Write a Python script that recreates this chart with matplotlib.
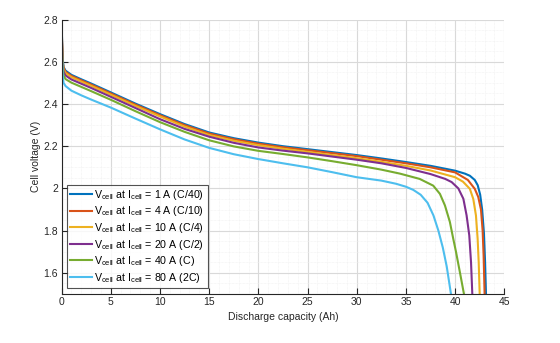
import matplotlib
matplotlib.use("Agg")
import matplotlib.pyplot as plt
from matplotlib.ticker import AutoMinorLocator

# ---- data ----
labels = [
    r"V$_{\mathregular{cell}}$ at I$_{\mathregular{cell}}$ = 1 A (C/40)",
    r"V$_{\mathregular{cell}}$ at I$_{\mathregular{cell}}$ = 4 A (C/10)",
    r"V$_{\mathregular{cell}}$ at I$_{\mathregular{cell}}$ = 10 A (C/4)",
    r"V$_{\mathregular{cell}}$ at I$_{\mathregular{cell}}$ = 20 A (C/2)",
    r"V$_{\mathregular{cell}}$ at I$_{\mathregular{cell}}$ = 40 A (C)",
    r"V$_{\mathregular{cell}}$ at I$_{\mathregular{cell}}$ = 80 A (2C)",
]
colors = ["#0072BD", "#D95319", "#EDB120", "#7E2F8E", "#77AC30", "#4DBEEE"]

x_1A = [0, 0.05, 0.1, 0.2, 0.4, 1, 2, 3, 5, 7.5, 10, 12.5, 15, 17.5, 20, 22.5, 25,
        27.5, 30, 32.5, 35, 37.5, 40, 41, 41.5, 42.0, 42.3, 42.55, 42.75, 42.93, 43.05, 43.14]
v_1A = [2.79, 2.70, 2.62, 2.575, 2.558, 2.538, 2.517, 2.497, 2.455, 2.402, 2.352, 2.305,
        2.265, 2.238, 2.217, 2.200, 2.186, 2.172, 2.158, 2.142, 2.125, 2.107, 2.084, 2.070,
        2.060, 2.040, 2.015, 1.970, 1.900, 1.790, 1.650, 1.50]

x_4A = [0, 0.05, 0.1, 0.2, 0.4, 1, 2, 3, 5, 7.5, 10, 12.5, 15, 17.5, 20, 22.5, 25,
        27.5, 30, 32.5, 35, 37.5, 40, 41.3, 42.0, 42.35, 42.63, 42.8, 42.9, 43.0]
v_4A = [2.79, 2.69, 2.61, 2.57, 2.552, 2.533, 2.512, 2.492, 2.450, 2.397, 2.347, 2.300,
        2.260, 2.233, 2.212, 2.195, 2.181, 2.167, 2.153, 2.136, 2.119, 2.100, 2.076, 2.040,
        1.998, 1.960, 1.900, 1.800, 1.680, 1.50]

x_10A = [0, 0.05, 0.1, 0.2, 0.4, 1, 2, 3, 5, 7.5, 10, 12.5, 15, 17.5, 20, 22.5, 25,
         27.5, 30, 32.5, 35, 37.5, 40, 40.8, 41.5, 41.85, 42.12, 42.29, 42.4, 42.5]
v_10A = [2.79, 2.68, 2.60, 2.565, 2.546, 2.527, 2.506, 2.486, 2.444, 2.391, 2.341, 2.293,
         2.253, 2.226, 2.205, 2.188, 2.173, 2.158, 2.143, 2.126, 2.107, 2.085, 2.053, 2.032,
         1.998, 1.950, 1.872, 1.762, 1.650, 1.50]

x_20A = [0, 0.05, 0.1, 0.2, 0.4, 1, 2, 3, 5, 7.5, 10, 12.5, 15, 17.5, 20, 22.5, 25,
         27.5, 30, 32.5, 35, 37.5, 39.0, 39.65, 40.33, 40.84, 41.17, 41.44, 41.62, 41.75]
v_20A = [2.79, 2.67, 2.59, 2.553, 2.535, 2.516, 2.496, 2.476, 2.434, 2.381, 2.328, 2.282,
         2.245, 2.216, 2.194, 2.179, 2.166, 2.151, 2.136, 2.119, 2.097, 2.068, 2.045, 2.030,
         2.000, 1.951, 1.872, 1.778, 1.650, 1.50]

x_40A = [0, 0.05, 0.1, 0.2, 0.4, 1, 2, 3, 5, 7.5, 10, 12.5, 15, 17.5, 20, 22.5, 25,
         27.5, 30, 32.5, 34.4, 36.4, 37.78, 38.46, 38.97, 39.47, 39.81, 40.09, 40.5, 40.9]
v_40A = [2.79, 2.65, 2.57, 2.535, 2.518, 2.501, 2.481, 2.461, 2.420, 2.366, 2.314, 2.268,
         2.228, 2.199, 2.178, 2.163, 2.147, 2.129, 2.110, 2.089, 2.070, 2.045, 2.013, 1.974,
         1.919, 1.841, 1.762, 1.700, 1.600, 1.50]

x_80A = [0, 0.05, 0.1, 0.2, 0.4, 1, 2, 3, 5, 7.5, 10, 12.5, 15, 17.5, 20, 22.5, 25,
         27.5, 30, 32.5, 34.0, 35.0, 35.75, 36.5, 37.2, 37.8, 38.3, 38.75, 39.15, 39.58]
v_80A = [2.79, 2.62, 2.54, 2.500, 2.485, 2.463, 2.441, 2.421, 2.383, 2.331, 2.280, 2.232,
         2.192, 2.162, 2.139, 2.119, 2.100, 2.077, 2.053, 2.037, 2.022, 2.008, 1.993,
         1.970, 1.932, 1.872, 1.800, 1.720, 1.630, 1.50]

series_x = [x_1A, x_4A, x_10A, x_20A, x_40A, x_80A]
series_v = [v_1A, v_4A, v_10A, v_20A, v_40A, v_80A]

x_ticks = [0, 5, 10, 15, 20, 25, 30, 35, 40, 45]
y_ticks = [1.6, 1.8, 2.0, 2.2, 2.4, 2.6, 2.8]
y_tick_labels = ["1.6", "1.8", "2", "2.2", "2.4", "2.6", "2.8"]
x_label = "Discharge capacity (Ah)"
y_label = "Cell voltage (V)"

# ---- figure ----
plt.rcParams["font.family"] = ["Liberation Sans", "DejaVu Sans"]
plt.rcParams["mathtext.fontset"] = "custom"
plt.rcParams["mathtext.rm"] = "Liberation Sans"
plt.rcParams["mathtext.it"] = "Liberation Sans:italic"
plt.rcParams["mathtext.bf"] = "Liberation Sans:bold"

fig = plt.figure(figsize=(5.6, 3.43), dpi=100)
ax = fig.add_axes([0.110, 0.143, 0.7905, 0.800])

for xs, vs, c, lab in zip(series_x, series_v, colors, labels):
    ax.plot(xs, vs, color=c, lw=1.5, label=lab, solid_joinstyle="round")

ax.set_xlim(0, 45)
ax.set_ylim(1.5, 2.8)
ax.set_xticks(x_ticks)
ax.set_yticks(y_ticks)
ax.set_yticklabels(y_tick_labels)
ax.xaxis.set_minor_locator(AutoMinorLocator(5))
ax.yaxis.set_minor_locator(AutoMinorLocator(4))

ax.grid(True, which="major", color="#d9d9d9", lw=0.8)
ax.grid(True, which="minor", color="#efefef", lw=0.5, ls=(0, (1, 1)))
ax.set_axisbelow(True)

for s in ["top", "right"]:
    ax.spines[s].set_visible(False)
for s in ["left", "bottom"]:
    ax.spines[s].set_color("#262626")
    ax.spines[s].set_linewidth(0.8)

ax.tick_params(which="major", direction="in", length=4, width=0.8,
               colors="#262626", labelsize=7.5, pad=2.5)
ax.tick_params(which="minor", length=0)

ax.set_xlabel(x_label, fontsize=7.5, color="#262626", labelpad=3)
ax.set_ylabel(y_label, fontsize=7.5, color="#262626", labelpad=2)

leg = ax.legend(loc="lower left", bbox_to_anchor=(0.0127, 0.022), fontsize=7.7,
                frameon=True, fancybox=False, edgecolor="#262626",
                handlelength=2.05, handletextpad=0.2, borderpad=0.3,
                labelspacing=0.24, borderaxespad=0.0)
leg.get_frame().set_linewidth(0.8)

fig.savefig("out.png", dpi=100)
